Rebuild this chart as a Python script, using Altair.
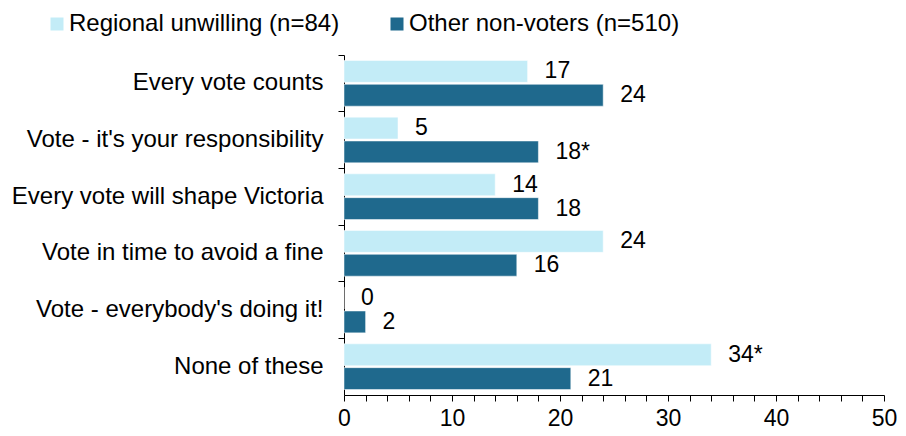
import altair as alt
import pandas as pd

categories = [
    "Every vote counts",
    "Vote - it's your responsibility",
    "Every vote will shape Victoria",
    "Vote in time to avoid a fine",
    "Vote - everybody's doing it!",
    "None of these",
]
series_names = ["Regional unwilling (n=84)", "Other non-voters (n=510)"]
regional_values = [17, 5, 14, 24, 0, 34]
other_values = [24, 18, 18, 16, 2, 21]
regional_labels = ["17", "5", "14", "24", "0", "34*"]
other_labels = ["24", "18*", "18", "16", "2", "21"]
colors = ["#c3ecf7", "#1f698d"]
x_ticks = list(range(0, 51, 2))

rows = []
for i, c in enumerate(categories):
    rows.append({"cat": c, "series": series_names[0], "value": regional_values[i], "label": regional_labels[i]})
    rows.append({"cat": c, "series": series_names[1], "value": other_values[i], "label": other_labels[i]})
df = pd.DataFrame(rows)

FONT = "Liberation Sans"

y_enc = alt.Y(
    "cat:N",
    sort=categories,
    title=None,
    scale=alt.Scale(paddingInner=0, paddingOuter=0),
    axis=alt.Axis(
        bandPosition=0,
        tickSize=6,
        tickColor="black",
        domainColor="black",
        labelFontSize=24,
        labelFont=FONT,
        labelColor="black",
        labelPadding=15,
        labelLimit=500,
    ),
)
yoff_enc = alt.YOffset(
    "series:N",
    sort=series_names,
    scale=alt.Scale(paddingInner=0.0833, paddingOuter=0.23),
)
x_enc = alt.X(
    "value:Q",
    title=None,
    scale=alt.Scale(domain=[0, 50], nice=False),
    axis=alt.Axis(
        values=x_ticks,
        labelExpr="datum.value % 10 == 0 ? datum.label : ''",
        grid=False,
        tickSize=6,
        tickColor="black",
        domainColor="black",
        labelFontSize=23,
        labelFont=FONT,
        labelColor="black",
        labelPadding=6,
        labelFlush=False,
        labelOverlap=False,
        labelBound=False,
    ),
)

base = alt.Chart(df).encode(x=x_enc, y=y_enc, yOffset=yoff_enc)

bars = base.mark_bar(stroke="white", strokeWidth=0.5).encode(
    color=alt.Color(
        "series:N",
        sort=series_names,
        scale=alt.Scale(domain=series_names, range=colors),
        legend=alt.Legend(
            title=None,
            orient="none",
            direction="horizontal",
            legendX=-299,
            legendY=-43,
            symbolType="square",
            symbolSize=169,
            symbolStrokeWidth=0,
            labelFontSize=24,
            labelFont=FONT,
            labelColor="black",
            labelOffset=0,
            columnPadding=45,
            labelLimit=500,
        ),
    ),
)

text = base.mark_text(
    align="left", baseline="middle", dx=17, fontSize=23, font=FONT, color="black"
).encode(text="label:N")

chart = (
    alt.layer(bars, text)
    .properties(width=540, height=340, padding={"left": 3, "top": 4, "right": 0, "bottom": 0})
    .configure_view(stroke=None)
)

chart.save("out.html", embed_options={"renderer": "svg", "actions": False})
